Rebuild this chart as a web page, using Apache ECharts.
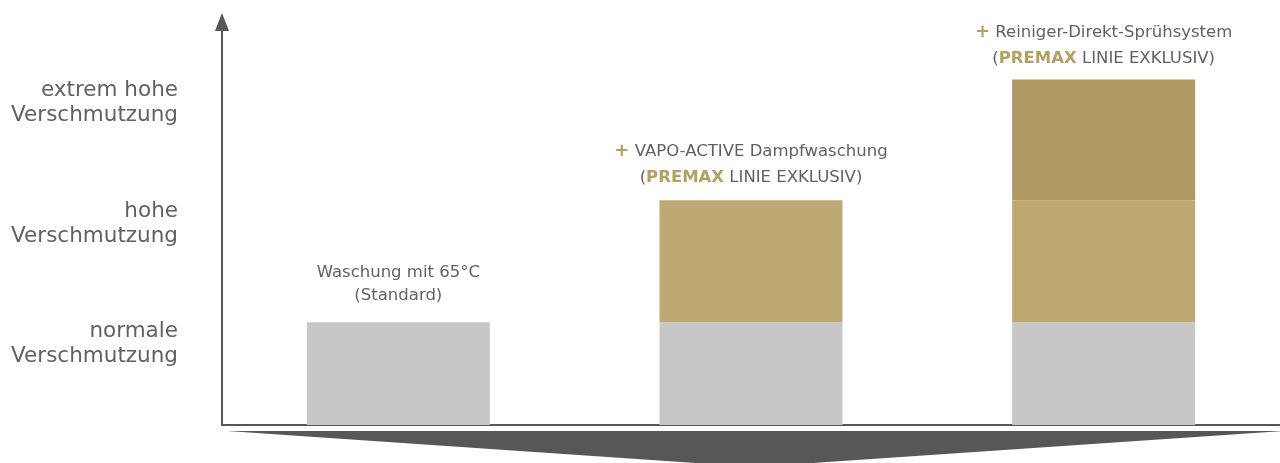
<!DOCTYPE html>
<html lang="de">

<head>
    <meta charset="UTF-8">
    <title>Verschmutzung</title>
    <script src="https://cdn.jsdelivr.net/npm/echarts@6/dist/echarts.min.js"></script>
    <style>
        html,
        body {
            width: 100%;
            height: 100%;
            margin: 0px;
            padding: 0px;
            background: #fff;
        }

        #chart {
            width: 1280px;
            height: 463px;
        }
    </style>
</head>

<body>
    <div id="chart"></div>
    <script>
        // Daten
        var categories = ['Standard', 'VAPO-ACTIVE', 'Direkt-Sprühsystem'];
        var normalLevel = [10.2, 10.2, 10.2];
        var highLevel = [null, 12.1, 12.1];
        var extremeLevel = [null, null, 12.0];

        var levelTicks = [8, 20, 32];
        var levelNames = ['normale\nVerschmutzung', 'hohe\nVerschmutzung', 'extrem hohe\nVerschmutzung'];

        var barNotes = [
            'Waschung mit 65°C\n(Standard)',
            '{plus|+} VAPO-ACTIVE Dampfwaschung\n({gold|PREMAX} LINIE EXKLUSIV)',
            '{plus|+} Reiniger-Direkt-Sprühsystem\n({gold|PREMAX} LINIE EXKLUSIV)'
        ];

        var textColor = '#616161';
        var goldText = '#b5a064';
        var font = 'DejaVu Sans';
        var noteGaps = [15, 10, 8];
        var noteLines = [23, 26, 26];

        var levels = [normalLevel, highLevel, extremeLevel];
        // oberstes Segment je Kategorie bekommt die Beschriftung
        var topIndex = categories.map(function (c, i) {
            var top = 0;
            levels.forEach(function (arr, s) { if (arr[i] != null) top = s; });
            return top;
        });

        function buildData(values, s) {
            return values.map(function (v, i) {
                if (v == null) return '-';
                if (topIndex[i] !== s) return v;
                var lh = noteLines[i];
                return {
                    value: v,
                    label: {
                        show: true,
                        position: 'top',
                        distance: noteGaps[i],
                        formatter: barNotes[i],
                        color: textColor,
                        fontFamily: font,
                        fontSize: 16.5,
                        lineHeight: lh,
                        align: 'center',
                        rich: {
                            plus: { color: goldText, fontWeight: 'bold', fontSize: 18, fontFamily: font, lineHeight: lh },
                            gold: { color: goldText, fontWeight: 'bold', fontSize: 16.5, fontFamily: font, lineHeight: lh }
                        }
                    }
                };
            });
        }

        var colors = ['#c6c7c6', '#bfa972', '#ae9963'];
        var names = ['normal', 'hoch', 'extrem'];

        var chart = echarts.init(document.getElementById('chart'));
        var option = {
            backgroundColor: '#fff',
            animation: false,
            grid: { left: 222, right: 0, top: 22, bottom: 38 },
            xAxis: {
                type: 'category',
                data: categories,
                axisLine: { lineStyle: { color: '#575757', width: 2 } },
                axisTick: { show: false },
                axisLabel: { show: false }
            },
            yAxis: {
                type: 'value',
                min: 0,
                max: 40,
                interval: 4,
                splitLine: { show: false },
                axisTick: { show: false },
                axisLine: {
                    show: true,
                    symbol: ['none', 'triangle'],
                    symbolSize: [14, 18],
                    lineStyle: { color: '#575757', width: 2 }
                },
                axisLabel: {
                    margin: 44,
                    color: textColor,
                    fontFamily: font,
                    fontSize: 21.5,
                    lineHeight: 25,
                    formatter: function (v) {
                        var k = levelTicks.indexOf(v);
                        return k < 0 ? '' : levelNames[k];
                    }
                }
            },
            graphic: [{
                type: 'polygon',
                shape: { points: [[227, 431], [1282, 431], [754, 467]] },
                style: { fill: '#575757' }
            }],
            series: levels.map(function (arr, s) {
                return {
                    name: names[s],
                    type: 'bar',
                    stack: 'total',
                    barWidth: 183,
                    itemStyle: { color: colors[s] },
                    data: buildData(arr, s)
                };
            })
        };
        chart.setOption(option);
    </script>
</body>

</html>
